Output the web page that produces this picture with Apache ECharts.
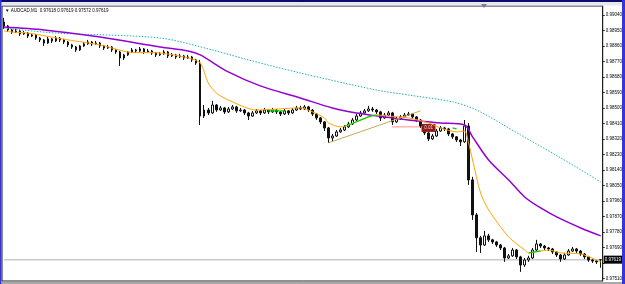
<!DOCTYPE html>
<html>
<head>
<meta charset="utf-8">
<script src="https://cdn.jsdelivr.net/npm/echarts@6/dist/echarts.min.js"></script>
<style>
  html, body { margin: 0; padding: 0; background: #fff; }
  #chart { width: 625px; height: 284px; }
</style>
</head>
<body>
<div id="chart"></div>
<script>
// AUDCAD M1 candles: [open, close, low, high]
const candles = [
  [0.98999, 0.98976, 0.98959, 0.99023], [0.98976, 0.98953, 0.98941, 0.98982], [0.98953, 0.98941, 0.98930, 0.98959],
  [0.98941, 0.98947, 0.98935, 0.98959], [0.98947, 0.98930, 0.98918, 0.98953], [0.98930, 0.98935, 0.98924, 0.98947],
  [0.98935, 0.98918, 0.98906, 0.98941], [0.98918, 0.98924, 0.98912, 0.98935], [0.98924, 0.98906, 0.98895, 0.98930],
  [0.98906, 0.98895, 0.98883, 0.98912], [0.98895, 0.98877, 0.98860, 0.98901], [0.98877, 0.98901, 0.98872, 0.98912],
  [0.98901, 0.98889, 0.98877, 0.98906], [0.98889, 0.98906, 0.98883, 0.98918], [0.98906, 0.98895, 0.98883, 0.98912],
  [0.98895, 0.98883, 0.98872, 0.98901], [0.98883, 0.98866, 0.98854, 0.98889], [0.98866, 0.98854, 0.98843, 0.98872],
  [0.98854, 0.98837, 0.98825, 0.98860], [0.98837, 0.98860, 0.98831, 0.98866], [0.98860, 0.98872, 0.98854, 0.98883],
  [0.98872, 0.98883, 0.98866, 0.98895], [0.98883, 0.98872, 0.98860, 0.98889], [0.98872, 0.98877, 0.98866, 0.98889],
  [0.98877, 0.98860, 0.98848, 0.98883], [0.98860, 0.98848, 0.98837, 0.98866], [0.98848, 0.98854, 0.98843, 0.98866],
  [0.98854, 0.98837, 0.98825, 0.98860], [0.98837, 0.98825, 0.98814, 0.98843], [0.98825, 0.98790, 0.98744, 0.98831],
  [0.98790, 0.98808, 0.98779, 0.98814], [0.98808, 0.98825, 0.98802, 0.98831], [0.98825, 0.98837, 0.98819, 0.98848],
  [0.98837, 0.98831, 0.98819, 0.98843], [0.98831, 0.98843, 0.98825, 0.98854], [0.98843, 0.98825, 0.98814, 0.98848],
  [0.98825, 0.98831, 0.98819, 0.98843], [0.98831, 0.98819, 0.98808, 0.98837], [0.98819, 0.98808, 0.98796, 0.98825],
  [0.98808, 0.98814, 0.98802, 0.98825], [0.98814, 0.98825, 0.98808, 0.98837], [0.98825, 0.98802, 0.98790, 0.98831],
  [0.98802, 0.98808, 0.98796, 0.98819], [0.98808, 0.98796, 0.98785, 0.98814], [0.98796, 0.98802, 0.98790, 0.98814],
  [0.98802, 0.98790, 0.98779, 0.98808], [0.98790, 0.98796, 0.98785, 0.98808], [0.98796, 0.98779, 0.98767, 0.98802],
  [0.98779, 0.98761, 0.98750, 0.98785], [0.98761, 0.98453, 0.98401, 0.98779], [0.98453, 0.98488, 0.98442, 0.98517],
  [0.98488, 0.98471, 0.98459, 0.98500], [0.98471, 0.98517, 0.98465, 0.98541], [0.98517, 0.98488, 0.98477, 0.98523],
  [0.98488, 0.98500, 0.98483, 0.98512], [0.98500, 0.98477, 0.98465, 0.98506], [0.98477, 0.98494, 0.98471, 0.98506],
  [0.98494, 0.98506, 0.98488, 0.98517], [0.98506, 0.98483, 0.98471, 0.98512], [0.98483, 0.98488, 0.98477, 0.98500],
  [0.98488, 0.98471, 0.98459, 0.98494], [0.98471, 0.98453, 0.98430, 0.98477], [0.98453, 0.98471, 0.98448, 0.98483],
  [0.98471, 0.98483, 0.98465, 0.98494], [0.98483, 0.98471, 0.98459, 0.98488], [0.98471, 0.98488, 0.98465, 0.98500],
  [0.98488, 0.98477, 0.98465, 0.98494], [0.98477, 0.98488, 0.98471, 0.98500], [0.98488, 0.98477, 0.98465, 0.98494],
  [0.98477, 0.98465, 0.98453, 0.98483], [0.98465, 0.98483, 0.98459, 0.98494], [0.98483, 0.98471, 0.98459, 0.98488],
  [0.98471, 0.98488, 0.98465, 0.98500], [0.98488, 0.98500, 0.98483, 0.98512], [0.98500, 0.98494, 0.98488, 0.98512],
  [0.98494, 0.98506, 0.98488, 0.98517], [0.98506, 0.98488, 0.98477, 0.98512], [0.98488, 0.98465, 0.98453, 0.98494],
  [0.98465, 0.98442, 0.98430, 0.98471], [0.98442, 0.98419, 0.98407, 0.98448], [0.98419, 0.98384, 0.98366, 0.98424],
  [0.98384, 0.98326, 0.98297, 0.98390], [0.98326, 0.98337, 0.98308, 0.98349], [0.98337, 0.98361, 0.98332, 0.98372],
  [0.98361, 0.98372, 0.98355, 0.98384], [0.98372, 0.98390, 0.98366, 0.98401], [0.98390, 0.98407, 0.98384, 0.98419],
  [0.98407, 0.98430, 0.98401, 0.98442], [0.98430, 0.98453, 0.98424, 0.98465], [0.98453, 0.98471, 0.98448, 0.98483],
  [0.98471, 0.98483, 0.98465, 0.98494], [0.98483, 0.98494, 0.98477, 0.98512], [0.98494, 0.98488, 0.98477, 0.98506],
  [0.98488, 0.98477, 0.98465, 0.98494], [0.98477, 0.98442, 0.98424, 0.98483], [0.98442, 0.98459, 0.98436, 0.98471],
  [0.98459, 0.98471, 0.98453, 0.98483], [0.98471, 0.98419, 0.98401, 0.98477], [0.98419, 0.98436, 0.98413, 0.98448],
  [0.98436, 0.98448, 0.98430, 0.98459], [0.98448, 0.98459, 0.98442, 0.98471], [0.98459, 0.98465, 0.98453, 0.98477],
  [0.98465, 0.98448, 0.98436, 0.98471], [0.98448, 0.98430, 0.98419, 0.98453], [0.98430, 0.98395, 0.98384, 0.98436],
  [0.98395, 0.98355, 0.98343, 0.98401], [0.98355, 0.98320, 0.98308, 0.98361], [0.98320, 0.98337, 0.98314, 0.98349],
  [0.98337, 0.98366, 0.98332, 0.98378], [0.98366, 0.98384, 0.98361, 0.98395], [0.98384, 0.98378, 0.98366, 0.98390],
  [0.98378, 0.98349, 0.98337, 0.98384], [0.98349, 0.98332, 0.98320, 0.98355], [0.98332, 0.98314, 0.98303, 0.98337],
  [0.98314, 0.98303, 0.98279, 0.98320], [0.98303, 0.98395, 0.98297, 0.98430], [0.98395, 0.98082, 0.98053, 0.98413],
  [0.98082, 0.97879, 0.97850, 0.98100], [0.97879, 0.97746, 0.97664, 0.97890], [0.97746, 0.97704, 0.97658, 0.97757],
  [0.97704, 0.97757, 0.97698, 0.97786], [0.97757, 0.97734, 0.97722, 0.97769], [0.97734, 0.97722, 0.97710, 0.97740],
  [0.97722, 0.97704, 0.97693, 0.97728], [0.97704, 0.97687, 0.97675, 0.97710], [0.97687, 0.97629, 0.97606, 0.97693],
  [0.97629, 0.97641, 0.97623, 0.97652], [0.97641, 0.97675, 0.97635, 0.97687], [0.97675, 0.97635, 0.97623, 0.97681],
  [0.97635, 0.97588, 0.97548, 0.97641], [0.97588, 0.97617, 0.97577, 0.97629], [0.97617, 0.97629, 0.97606, 0.97641],
  [0.97629, 0.97675, 0.97623, 0.97687], [0.97675, 0.97710, 0.97669, 0.97734], [0.97710, 0.97698, 0.97687, 0.97716],
  [0.97698, 0.97687, 0.97675, 0.97704], [0.97687, 0.97681, 0.97669, 0.97693], [0.97681, 0.97664, 0.97652, 0.97687],
  [0.97664, 0.97646, 0.97635, 0.97669], [0.97646, 0.97623, 0.97606, 0.97652], [0.97623, 0.97646, 0.97617, 0.97658],
  [0.97646, 0.97669, 0.97641, 0.97681], [0.97669, 0.97681, 0.97664, 0.97693], [0.97681, 0.97669, 0.97658, 0.97687],
  [0.97669, 0.97652, 0.97641, 0.97675], [0.97652, 0.97635, 0.97623, 0.97658], [0.97635, 0.97617, 0.97606, 0.97641],
  [0.97617, 0.97611, 0.97600, 0.97623], [0.97611, 0.97606, 0.97594, 0.97617], [0.97618, 0.97619, 0.97572, 0.97619]
];

// moving averages, read as [candle index, price]
const maFast = [
  [0, 0.98947], [2, 0.98941], [6, 0.98935], [16, 0.98895], [24, 0.98866], [31, 0.98825], [39, 0.98819],
  [46, 0.98790], [49, 0.98761], [51, 0.98645], [53, 0.98587], [56, 0.98546], [63, 0.98488], [74, 0.98500],
  [76, 0.98488], [80, 0.98442], [81, 0.98413], [84, 0.98390], [86, 0.98401], [91, 0.98448], [93, 0.98459],
  [96, 0.98453], [101, 0.98442], [106, 0.98413], [109, 0.98384], [113, 0.98361], [115, 0.98366], [116, 0.98297],
  [117, 0.98198], [119, 0.98006], [121, 0.97908], [126, 0.97751], [130, 0.97675], [131, 0.97658], [136, 0.97675],
  [139, 0.97658], [144, 0.97652], [149, 0.97606]
];
const maMid = [
  [0, 0.98970], [10, 0.98953], [24, 0.98912], [39, 0.98854], [46, 0.98831], [49, 0.98808], [56, 0.98709],
  [64, 0.98628], [74, 0.98558], [82, 0.98500], [88, 0.98471], [95, 0.98448], [101, 0.98430], [109, 0.98413],
  [115, 0.98401], [117, 0.98332], [121, 0.98198], [126, 0.98082], [130, 0.97983], [134, 0.97919], [138, 0.97867],
  [144, 0.97803], [149, 0.97757]
];
const maSlow = [
  [0, 0.98964], [13, 0.98935], [39, 0.98906], [52, 0.98837], [61, 0.98779], [74, 0.98703], [93, 0.98604],
  [101, 0.98575], [112, 0.98535], [118, 0.98488], [129, 0.98343], [139, 0.98210], [149, 0.98070]
];
// parts of the fast MA drawn green
const greenRuns = [
  [[66, 0.98483], [70, 0.98483]],
  [[85, 0.98395], [86, 0.98401], [91, 0.98448], [93, 0.98459]],
  [[112, 0.98384], [113, 0.98378]],
  [[131, 0.97658], [134, 0.97670]]
];

const trendLine = [[81, 0.98297], [104, 0.98483]];
const redLevel = [[97, 0.98390], [104, 0.98390]];
const orderTag = { at: 106, price: 0.98384, text: '0.01' };

const bid = 0.97619;
const bidLine = [[0, bid], [149, bid]];
const priceTicks = [0.97510, 0.97600, 0.97690, 0.97780, 0.97870, 0.97960, 0.98050, 0.98140, 0.98230,
  0.98320, 0.98410, 0.98500, 0.98590, 0.98680, 0.98770, 0.98860, 0.98950, 0.99040];
const priceLabels = priceTicks.filter(v => v !== 0.97600);

const titleText = '\u25BC AUDCAD,M1  0.97618 0.97619 0.97572 0.97619';

const chart = echarts.init(document.getElementById('chart'));
const font = 'Liberation Sans';

const series = [
  {
    // bid line with price box on the scale
    type: 'line',
    data: bidLine,
    symbol: 'none',
    z: 1,
    lineStyle: { color: '#c4ccd4', width: 1.5 },
    endLabel: {
      show: true,
      distance: 3,
      formatter: bid.toFixed(5),
      color: '#ffffff',
      backgroundColor: '#000000',
      fontFamily: font,
      fontSize: 4.5,
      padding: [2, 1, 1, 1]
    }
  },
  {
    type: 'candlestick',
    data: candles,
    barWidth: 2,
    z: 2,
    itemStyle: {
      color: '#ffffff',
      color0: '#111111',
      borderColor: '#111111',
      borderColor0: '#111111',
      borderWidth: 1
    },
    markPoint: {
      silent: true,
      animation: false,
      data: [{
        coord: [orderTag.at, orderTag.price],
        symbol: 'rect',
        symbolSize: [14, 8],
        itemStyle: { color: '#8e1c1c' },
        label: { show: true, formatter: orderTag.text, color: '#f0d0d0', fontSize: 4.5, fontFamily: font }
      }]
    }
  },
  {
    type: 'line', data: trendLine, symbol: 'none',
    lineStyle: { color: '#c8aa55', width: 1 }, z: 7
  },
  {
    type: 'line', data: redLevel, symbol: 'none',
    lineStyle: { color: '#ff2020', width: 1, type: [1, 1] }, z: 7
  },
  {
    type: 'line', data: maSlow, smooth: 0.3, symbol: 'none',
    lineStyle: { color: '#20b2aa', width: 1, type: [1.5, 1.5] }, z: 3
  },
  {
    type: 'line', data: maMid, smooth: 0.3, symbol: 'none',
    lineStyle: { color: '#9400d3', width: 1.5 }, z: 4
  },
  {
    type: 'line', data: maFast, smooth: 0.25, symbol: 'none',
    lineStyle: { color: '#ffa500', width: 1 }, z: 5
  }
];
greenRuns.forEach(run => series.push({
  type: 'line', data: run, smooth: 0.25, symbol: 'none',
  lineStyle: { color: '#00d800', width: 1.2 }, z: 6
}));

chart.setOption({
  animation: false,
  backgroundColor: '#ffffff',
  grid: {
    left: 2, right: 22, top: 6, bottom: 3,
    show: true, borderColor: '#202020', borderWidth: 1
  },
  xAxis: {
    type: 'category',
    data: candles.map((c, i) => i),
    boundaryGap: true,
    show: false
  },
  yAxis: {
    type: 'value',
    position: 'right',
    min: 0.97495,
    max: 0.99092,
    scale: true,
    splitLine: { show: false },
    axisLine: { show: true, lineStyle: { color: '#202020', width: 1 } },
    axisTick: { show: true, length: 2, customValues: priceTicks, lineStyle: { color: '#202020' } },
    axisLabel: {
      customValues: priceLabels,
      formatter: v => v.toFixed(5),
      color: '#000000',
      fontFamily: font,
      fontSize: 4.5,
      margin: 3
    }
  },
  series: series,
  graphic: [
    { type: 'rect', shape: { x: 0, y: 0, width: 625, height: 2 }, style: { fill: '#0c0c6a' }, z: 100 },
    { type: 'rect', shape: { x: 0, y: 2, width: 625, height: 3.5 }, style: { fill: '#e6e8ee' }, z: 100 },
    { type: 'rect', shape: { x: 0, y: 0, width: 1.5, height: 284 }, style: { fill: '#3636d6' }, z: 101 },
    { type: 'rect', shape: { x: 622, y: 0, width: 3, height: 284 }, style: { fill: '#3636d6' }, z: 101 },
    { type: 'rect', shape: { x: 1.5, y: 282, width: 620.5, height: 2 }, style: { fill: '#a8a8a8' }, z: 100 },
    { type: 'polygon', shape: { points: [[481, 4], [487, 4], [484, 8]] }, style: { fill: '#7a7a9a' }, z: 102 },
    {
      type: 'text', left: 5, top: 8, z: 102,
      style: { text: titleText, fill: '#000000', font: '4.5px "Liberation Sans"' }
    }
  ]
});
</script>
</body>
</html>
